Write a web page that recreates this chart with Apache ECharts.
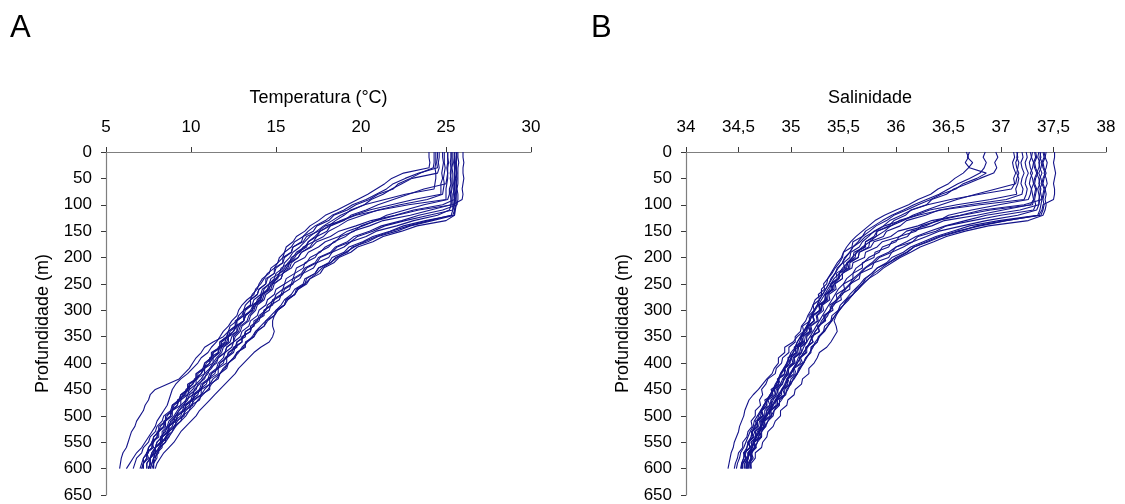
<!DOCTYPE html>
<html>
<head>
<meta charset="utf-8">
<script src="https://cdn.jsdelivr.net/npm/echarts@6/dist/echarts.min.js"></script>
<style>
  html, body { margin: 0; padding: 0; background: #ffffff; }
  #chart { width: 1125px; height: 504px; }
</style>
</head>
<body>
<div id="chart"></div>
<script>
// ---------------- DATA ----------------
const PANEL_LABELS = ['A', 'B'];
const TEMP_TITLE = 'Temperatura (°C)';
const SAL_TITLE = 'Salinidade';
const DEPTH_TITLE = 'Profundidade (m)';

// depth levels (m) shared by all profiles
const DEPTHS = [0,10,20,30,40,50,60,70,80,90,100,110,120,130,140,150,160,170,180,190,
  200,210,220,230,240,250,260,270,280,290,300,310,320,330,340,350,360,370,380,390,
  400,410,420,430,440,450,460,470,480,490,500,510,520,530,540,550,560,570,580,590,600];

// Temperature profiles (°C), one value per depth level
const T01 = [24.0,24.0,24.05,24.0,22.5,21.8,21.4,20.9,20.4,19.8,
  19.2,18.6,17.9,17.5,17.0,16.7,16.2,16.0,15.6,15.5,
  15.2,15.1,14.7,14.6,14.2,14.0,13.9,13.6,13.5,13.2,
  13.1,12.8,12.7,12.3,12.2,11.9,11.3,10.8,10.6,10.3,
  10.1,9.9,9.6,9.3,8.6,7.9,7.6,7.5,7.3,7.2,
  7.0,6.8,6.7,6.5,6.4,6.3,6.2,6.0,5.9,5.85,5.8];
const T02 = [24.5,24.5,24.45,24.5,23.4,22.6,21.9,21.5,20.9,20.3,
  19.5,19.0,18.3,17.9,17.3,16.9,16.6,16.1,15.9,15.5,
  15.4,15.1,14.9,14.5,14.3,14.1,13.8,13.7,13.3,13.0,
  12.8,12.7,12.4,12.2,11.9,11.7,11.5,11.2,11.0,10.6,
  10.4,10.1,9.8,9.4,9.1,8.9,8.8,8.7,8.6,8.4,
  8.2,8.0,7.9,7.7,7.5,7.3,7.1,6.8,6.6,6.4,6.2];
const T03 = [24.4,24.4,24.4,24.35,24.4,24.4,24.35,24.3,22.6,21.4,
  20.2,19.5,18.8,18.3,17.8,17.4,17.0,16.7,16.4,16.0,
  15.8,15.5,15.4,15.0,14.9,14.6,14.3,14.2,13.9,13.8,
  13.6,13.2,13.1,12.8,12.7,12.4,12.3,11.9,11.8,11.5,
  11.3,11.1,10.8,10.6,10.3,10.1,9.8,9.7,9.4,9.2,
  9.0,8.7,8.6,8.3,8.3,8.0,7.9,7.7,7.6,7.4,7.4];
const T04 = [24.8,24.8,24.85,24.8,24.75,24.8,24.7,24.7,24.7,23.1,
  21.8,20.5,19.6,18.8,18.2,17.6,17.3,16.9,16.8,16.3,
  16.1,15.8,15.6,15.4,15.0,14.8,14.5,14.3,14.2,13.8,
  13.7,13.4,13.3,12.9,12.8,12.5,12.5,12.1,12.0,11.6,
  11.5,11.1,11.0,10.7,10.5,10.2,10.1,9.7,9.6,9.3,
  9.1,8.9,8.6,8.5,8.2,8.2,7.9,7.8,7.6,7.6,7.5];
const T05 = [24.6,24.6,24.55,24.6,24.5,23.0,22.4,21.8,21.3,20.6,
  20.2,19.4,19.0,18.5,18.1,17.6,17.4,16.9,16.7,16.2,
  16.0,15.7,15.5,15.2,15.0,14.6,14.5,14.2,14.0,13.7,
  13.5,13.2,13.1,12.7,12.5,12.2,12.1,11.7,11.6,11.3,
  11.1,10.8,10.6,10.3,10.1,9.8,9.6,9.3,9.2,8.9,
  8.8,8.5,8.4,8.1,8.0,7.8,7.7,7.4,7.4,7.2,7.2];
const T06 = [24.9,24.9,24.9,24.95,24.9,24.85,24.9,24.85,24.8,23.9,
  22.3,21.0,20.1,19.2,18.7,18.1,17.8,17.2,17.0,16.5,
  16.3,15.9,15.8,15.4,15.3,14.9,14.8,14.4,14.3,13.9,
  13.8,13.5,13.4,13.0,12.9,12.6,12.5,12.1,12.0,11.6,
  11.4,11.2,10.9,10.8,10.4,10.3,9.9,9.8,9.5,9.3,
  9.1,8.8,8.7,8.4,8.3,8.0,7.9,7.7,7.6,7.4,7.4];
const T07 = [25.3,25.3,25.25,25.3,25.3,25.25,25.3,25.2,25.2,25.1,
  23.7,22.6,21.5,20.9,20.0,19.6,18.8,18.5,17.9,17.6,
  17.0,16.8,16.2,16.1,15.6,15.5,15.0,14.9,14.5,14.4,
  14.0,13.9,13.5,13.4,13.0,12.9,12.5,12.4,12.0,11.9,
  11.6,11.5,11.1,11.0,10.6,10.5,10.1,10.0,9.6,9.5,
  9.1,9.0,8.7,8.6,8.3,8.2,7.9,7.8,7.6,7.6,7.5];
const T08 = [26.0,26.0,26.05,26.0,26.0,26.05,26.0,25.95,26.0,25.95,
  25.4,25.4,25.3,24.0,22.8,21.8,20.9,20.2,19.6,19.1,
  18.6,18.2,17.7,17.4,17.0,16.7,16.3,16.1,15.7,15.5,
  15.1,14.9,14.5,14.3,13.9,13.7,13.3,13.1,12.7,12.5,
  12.2,11.9,11.7,11.3,11.1,10.8,10.6,10.2,10.0,9.7,
  9.5,9.2,9.0,8.7,8.5,8.3,8.1,7.9,7.8,7.7,7.6];
const T09 = [25.5,25.5,25.45,25.5,25.5,25.5,25.45,25.5,25.4,25.4,
  25.4,23.4,22.1,20.9,20.1,19.2,18.7,17.9,17.5,16.9,
  16.7,16.1,15.9,15.4,15.3,14.8,14.7,14.2,14.1,13.7,
  13.6,13.1,13.1,12.6,12.5,12.1,12.0,11.6,11.6,11.1,
  11.1,10.7,10.6,10.2,10.1,9.7,9.7,9.2,9.2,8.8,
  8.8,8.4,8.4,8.0,8.0,7.7,7.7,7.4,7.4,7.2,7.1];
const T10 = [25.1,25.1,25.1,25.05,25.1,25.1,25.05,25.0,25.0,25.0,
  22.8,21.1,19.7,18.9,17.9,17.5,16.8,16.6,16.0,15.9,
  15.4,15.4,14.9,14.9,14.4,14.4,14.0,13.9,13.5,13.5,
  13.1,13.0,12.6,12.6,12.2,12.1,11.7,11.7,11.2,11.2,
  10.8,10.7,10.3,10.3,9.8,9.8,9.4,9.3,8.9,8.9,
  8.5,8.5,8.1,8.1,7.8,7.8,7.5,7.5,7.2,7.2,7.1];
const T11 = [25.6,25.65,25.6,25.6,25.6,25.55,25.6,25.6,25.55,25.5,
  24.8,23.1,22.0,20.6,19.7,18.7,18.2,17.4,17.1,16.5,
  16.3,15.8,15.7,15.2,15.1,14.7,14.6,14.1,14.1,13.6,
  13.6,13.2,13.1,12.7,12.7,12.2,12.2,11.8,11.7,11.3,
  11.3,10.8,10.8,10.3,10.3,9.9,9.8,9.4,9.4,8.9,
  8.9,8.5,8.5,8.1,8.1,7.7,7.8,7.4,7.5,7.2,7.2];
const T12 = [25.4,25.4,25.4,25.35,25.4,25.4,25.4,25.35,25.3,25.3,
  25.3,24.1,22.9,21.3,20.5,19.5,19.1,18.4,18.1,17.5,
  17.3,16.7,16.6,16.1,16.0,15.5,15.4,15.0,14.9,14.5,
  14.4,14.0,13.9,13.5,13.5,13.0,13.0,12.6,12.5,12.1,
  12.1,11.6,11.6,11.1,11.1,10.6,10.6,10.1,10.1,9.6,
  9.6,9.1,9.1,8.7,8.7,8.3,8.3,8.0,8.0,7.8,7.7];
const T13 = [25.5,25.5,25.5,25.55,25.5,25.5,25.5,25.45,25.5,25.5,
  25.45,25.5,25.4,23.8,22.5,21.7,20.7,20.1,19.3,19.0,
  18.3,18.1,17.5,17.3,16.8,16.7,16.2,16.1,15.6,15.5,
  15.0,14.9,14.4,14.3,13.8,13.7,13.2,13.2,12.7,12.6,
  12.2,12.1,11.7,11.6,11.1,11.1,10.6,10.5,10.0,9.9,
  9.5,9.4,9.0,8.9,8.5,8.5,8.1,8.1,7.8,7.8,7.8];
const T14 = [25.6,25.6,25.6,25.6,25.65,25.6,25.6,25.6,25.6,25.55,
  25.6,25.55,25.5,25.0,23.3,22.4,21.3,20.7,19.8,19.4,
  18.7,18.4,17.8,17.6,17.0,16.8,16.3,16.1,15.6,15.5,
  15.1,14.9,14.8,14.8,14.9,14.8,14.6,14.1,13.7,13.4,
  13.1,12.8,12.6,12.3,12.0,11.7,11.4,11.1,10.8,10.5,
  10.3,10.0,9.7,9.4,9.2,9.0,8.7,8.4,8.2,8.0,7.9];
const T15 = [25.3,25.3,25.3,25.3,25.25,25.3,25.3,25.3,25.25,25.3,
  25.3,25.2,24.5,23.1,22.1,20.9,20.3,19.4,19.0,18.3,
  18.1,17.4,17.2,16.6,16.4,15.9,15.8,15.3,15.2,14.7,
  14.6,14.1,14.0,13.6,13.5,13.0,13.0,12.5,12.4,12.0,
  11.9,11.5,11.4,11.0,10.9,10.5,10.4,10.0,9.9,9.5,
  9.4,9.0,8.9,8.6,8.6,8.2,8.2,7.9,7.8,7.7,7.6];
const T16 = [25.5,25.5,25.55,25.5,25.5,25.5,25.5,25.5,25.45,25.5,
  25.5,25.4,24.0,22.6,21.4,20.7,19.8,19.4,18.6,18.3,
  17.6,17.4,16.8,16.6,16.1,16.0,15.5,15.4,14.9,14.8,
  14.3,14.3,13.8,13.7,13.2,13.2,12.7,12.7,12.2,12.1,
  11.7,11.6,11.2,11.1,10.7,10.6,10.2,10.1,9.7,9.6,
  9.2,9.1,8.7,8.7,8.3,8.3,7.9,7.9,7.6,7.6,7.5];
const T17 = [25.65,25.6,25.6,25.6,25.6,25.65,25.6,25.6,25.6,25.6,
  25.6,25.5,25.5,24.2,22.9,22.1,21.0,20.4,19.5,19.2,
  18.5,18.2,17.5,17.3,16.7,16.6,16.1,15.9,15.5,15.3,
  15.0,14.7,14.4,14.1,13.8,13.6,13.3,13.0,12.8,12.5,
  12.2,12.0,11.7,11.5,11.2,11.0,10.7,10.4,10.2,9.9,
  9.7,9.4,9.1,8.9,8.7,8.5,8.2,8.0,7.9,7.8,7.8];
const T18 = [25.1,25.1,25.15,25.1,25.1,25.05,25.0,23.7,22.8,21.9,
  21.0,20.3,19.4,19.0,18.2,18.0,17.4,17.2,16.6,16.4,
  15.9,15.8,15.3,15.2,14.7,14.6,14.2,14.1,13.7,13.6,
  13.2,13.1,12.7,12.7,12.3,12.2,11.8,11.8,11.3,11.3,
  10.9,10.8,10.4,10.4,9.9,9.9,9.5,9.4,9.0,8.9,
  8.6,8.5,8.2,8.1,7.8,7.7,7.5,7.4,7.2,7.1,7.0];
const T19 = [25.7,25.7,25.75,25.7,25.7,25.7,25.7,25.65,25.7,25.7,
  25.65,24.8,23.4,22.4,21.2,20.5,19.6,19.2,18.5,18.2,
  17.5,17.3,16.7,16.5,16.0,15.9,15.4,15.3,14.8,14.7,
  14.3,14.2,13.7,13.7,13.2,13.1,12.7,12.6,12.2,12.1,
  11.7,11.6,11.2,11.1,10.7,10.6,10.2,10.1,9.7,9.6,
  9.2,9.1,8.7,8.7,8.3,8.3,7.9,7.9,7.6,7.6,7.5];
const T20 = [24.3,24.3,24.3,24.25,23.5,22.9,22.2,21.9,21.0,20.5,
  19.7,19.2,18.4,18.1,17.4,17.2,16.6,16.5,16.0,15.9,
  15.5,15.4,15.0,14.9,14.5,14.4,14.0,13.9,13.5,13.5,
  13.1,13.1,12.7,12.6,12.2,12.1,11.7,11.7,11.3,11.2,
  10.8,10.8,10.3,10.3,9.9,9.8,9.4,9.3,8.9,8.8,
  8.4,8.3,8.0,7.9,7.6,7.5,7.2,7.1,6.8,6.7,6.6];

// Salinity profiles, one value per depth level
const S01 = [36.70,36.68,36.73,36.69,36.64,36.56,36.50,36.40,36.33,36.21,
  36.12,36.00,35.89,35.80,35.74,35.68,35.62,35.57,35.53,35.50,
  35.48,35.44,35.41,35.38,35.35,35.31,35.32,35.26,35.27,35.21,
  35.22,35.17,35.18,35.11,35.12,35.06,35.02,34.94,34.94,34.88,
  34.88,34.84,34.82,34.77,34.73,34.69,34.64,34.60,34.58,34.56,
  34.55,34.53,34.51,34.50,34.48,34.46,34.45,34.43,34.42,34.41,34.40];
const S02 = [36.85,36.83,36.86,36.84,36.80,36.70,36.59,36.50,36.41,36.29,
  36.17,36.07,35.96,35.87,35.79,35.71,35.68,35.59,35.58,35.50,
  35.49,35.46,35.42,35.39,35.35,35.34,35.29,35.29,35.23,35.21,
  35.19,35.16,35.14,35.10,35.09,35.04,35.04,34.98,34.98,34.92,
  34.91,34.86,34.85,34.78,34.76,34.72,34.73,34.70,34.71,34.66,
  34.66,34.62,34.63,34.59,34.58,34.54,34.54,34.50,34.49,34.47,34.46];
const S03 = [37.12,37.13,37.11,37.12,37.14,37.12,37.13,37.10,36.80,36.52,
  36.30,36.15,36.05,35.94,35.88,35.79,35.74,35.68,35.65,35.57,
  35.56,35.50,35.51,35.43,35.44,35.38,35.37,35.33,35.32,35.29,
  35.28,35.21,35.22,35.17,35.18,35.12,35.13,35.07,35.08,35.02,
  35.02,34.97,34.96,34.92,34.90,34.86,34.85,34.81,34.80,34.75,
  34.75,34.70,34.71,34.65,34.67,34.62,34.63,34.59,34.59,34.56,34.56];
const S04 = [37.16,37.15,37.17,37.16,37.15,37.17,37.16,37.14,37.15,36.90,
  36.58,36.32,36.19,36.03,35.95,35.82,35.79,35.71,35.71,35.62,
  35.61,35.54,35.53,35.49,35.45,35.41,35.39,35.35,35.35,35.29,
  35.29,35.24,35.25,35.18,35.19,35.14,35.15,35.09,35.10,35.03,
  35.04,34.97,34.98,34.93,34.92,34.87,34.88,34.81,34.82,34.77,
  34.76,34.72,34.71,34.68,34.66,34.64,34.63,34.60,34.59,34.58,34.58];
const S05 = [36.95,36.97,36.94,36.96,36.93,36.80,36.68,36.55,36.48,36.34,
  36.29,36.14,36.09,35.98,35.93,35.82,35.81,35.71,35.70,35.60,
  35.59,35.53,35.52,35.46,35.45,35.38,35.39,35.33,35.33,35.27,
  35.27,35.21,35.22,35.16,35.15,35.10,35.11,35.04,35.05,35.00,
  34.99,34.94,34.94,34.88,34.88,34.83,34.82,34.77,34.77,34.72,
  34.73,34.68,34.68,34.63,34.64,34.60,34.61,34.56,34.57,34.54,34.54];
const S06 = [37.20,37.21,37.19,37.20,37.22,37.20,37.19,37.21,37.20,37.05,
  36.70,36.41,36.28,36.10,36.04,35.91,35.88,35.75,35.74,35.65,
  35.64,35.56,35.56,35.49,35.49,35.42,35.43,35.36,35.37,35.30,
  35.31,35.25,35.26,35.19,35.20,35.15,35.15,35.09,35.10,35.03,
  35.03,34.98,34.97,34.94,34.91,34.88,34.86,34.83,34.81,34.77,
  34.76,34.71,34.72,34.66,34.67,34.62,34.63,34.59,34.59,34.56,34.56];
const S07 = [37.28,37.29,37.27,37.28,37.30,37.28,37.27,37.29,37.28,37.26,
  36.98,36.72,36.50,36.41,36.24,36.19,36.03,36.00,35.87,35.84,
  35.74,35.69,35.62,35.59,35.53,35.50,35.45,35.42,35.39,35.36,
  35.33,35.30,35.27,35.24,35.21,35.18,35.15,35.12,35.10,35.07,
  35.05,35.02,34.99,34.96,34.94,34.91,34.88,34.85,34.82,34.79,
  34.76,34.73,34.72,34.69,34.67,34.64,34.63,34.60,34.59,34.58,34.58];
const S08 = [37.51,37.51,37.50,37.51,37.52,37.51,37.50,37.51,37.51,37.50,
  37.40,37.39,37.36,37.05,36.80,36.58,36.41,36.29,36.17,36.11,
  36.02,35.93,35.86,35.79,35.74,35.68,35.64,35.59,35.55,35.50,
  35.46,35.42,35.39,35.35,35.32,35.27,35.25,35.20,35.18,35.14,
  35.12,35.07,35.06,35.00,34.99,34.94,34.94,34.87,34.87,34.81,
  34.81,34.75,34.75,34.70,34.69,34.65,34.65,34.61,34.62,34.60,34.59];
const S09 = [37.32,37.33,37.31,37.32,37.34,37.32,37.31,37.33,37.32,37.31,
  37.30,36.90,36.63,36.39,36.28,36.10,36.04,35.87,35.82,35.71,
  35.70,35.59,35.58,35.49,35.49,35.41,35.41,35.33,35.34,35.27,
  35.28,35.20,35.22,35.15,35.15,35.09,35.10,35.03,35.05,34.97,
  34.99,34.93,34.94,34.87,34.88,34.81,34.83,34.75,34.77,34.71,
  34.73,34.66,34.68,34.62,34.64,34.59,34.61,34.55,34.57,34.54,34.53];
const S10 = [37.24,37.25,37.23,37.24,37.26,37.24,37.23,37.25,37.24,37.22,
  36.80,36.43,36.21,36.05,35.89,35.80,35.71,35.66,35.59,35.56,
  35.51,35.49,35.44,35.42,35.38,35.36,35.33,35.30,35.27,35.25,
  35.22,35.19,35.17,35.15,35.12,35.09,35.06,35.04,35.00,34.98,
  34.96,34.93,34.90,34.88,34.85,34.83,34.80,34.77,34.74,34.72,
  34.69,34.68,34.65,34.63,34.62,34.60,34.58,34.57,34.55,34.53,34.53];
const S11 = [37.40,37.41,37.39,37.40,37.42,37.40,37.39,37.41,37.40,37.39,
  37.22,36.82,36.61,36.34,36.21,36.02,35.95,35.79,35.76,35.65,
  35.64,35.54,35.55,35.46,35.46,35.39,35.40,35.32,35.34,35.26,
  35.28,35.21,35.22,35.16,35.18,35.10,35.12,35.06,35.06,35.00,
  35.02,34.94,34.96,34.88,34.90,34.84,34.85,34.78,34.80,34.72,
  34.74,34.68,34.69,34.63,34.65,34.59,34.62,34.55,34.58,34.54,34.54];
const S12 = [37.30,37.29,37.31,37.30,37.28,37.30,37.31,37.29,37.30,37.31,
  37.28,37.02,36.77,36.46,36.34,36.15,36.11,35.96,35.93,35.80,
  35.79,35.68,35.68,35.59,35.59,35.50,35.51,35.43,35.44,35.37,
  35.38,35.31,35.32,35.25,35.27,35.19,35.21,35.15,35.15,35.09,
  35.11,35.03,35.05,34.97,34.99,34.92,34.94,34.86,34.88,34.80,
  34.82,34.74,34.76,34.70,34.72,34.65,34.67,34.62,34.64,34.60,34.60];
const S13 = [37.38,37.37,37.39,37.38,37.36,37.38,37.39,37.37,37.38,37.39,
  37.38,37.37,37.35,36.98,36.70,36.54,36.38,36.26,36.14,36.07,
  35.96,35.91,35.82,35.77,35.71,35.68,35.62,35.59,35.53,35.50,
  35.45,35.42,35.38,35.35,35.31,35.27,35.23,35.21,35.18,35.15,
  35.12,35.09,35.06,35.03,34.99,34.97,34.94,34.91,34.87,34.84,
  34.81,34.78,34.75,34.72,34.69,34.68,34.65,34.63,34.62,34.61,34.62];
const S14 = [37.43,37.42,37.44,37.43,37.41,37.43,37.44,37.42,37.43,37.42,
  37.43,37.42,37.40,37.26,36.88,36.66,36.48,36.36,36.23,36.14,
  36.04,35.96,35.88,35.82,35.74,35.69,35.64,35.59,35.53,35.50,
  35.46,35.43,35.41,35.43,35.44,35.41,35.38,35.34,35.27,35.25,
  35.22,35.17,35.17,35.11,35.10,35.04,35.03,34.97,34.96,34.90,
  34.90,34.85,34.83,34.78,34.77,34.73,34.72,34.66,34.66,34.62,34.62];
const S15 = [37.36,37.35,37.37,37.36,37.34,37.36,37.37,37.35,37.36,37.37,
  37.36,37.34,37.16,36.86,36.63,36.41,36.29,36.16,36.07,35.96,
  35.93,35.79,35.77,35.66,35.65,35.56,35.56,35.47,35.48,35.39,
  35.40,35.32,35.33,35.26,35.27,35.19,35.21,35.14,35.14,35.08,
  35.09,35.02,35.03,34.96,34.97,34.91,34.91,34.85,34.86,34.79,
  34.80,34.73,34.74,34.69,34.71,34.64,34.66,34.61,34.62,34.59,34.59];
const S16 = [37.33,37.34,37.32,37.33,37.35,37.33,37.32,37.34,37.33,37.32,
  37.33,37.31,37.00,36.73,36.48,36.38,36.21,36.16,36.00,35.96,
  35.84,35.79,35.71,35.66,35.61,35.57,35.52,35.49,35.44,35.41,
  35.37,35.35,35.31,35.27,35.23,35.21,35.18,35.16,35.12,35.09,
  35.06,35.03,35.00,34.97,34.95,34.92,34.89,34.86,34.83,34.80,
  34.77,34.74,34.72,34.70,34.67,34.65,34.63,34.61,34.59,34.58,34.58];
const S17 = [37.41,37.42,37.40,37.41,37.43,37.41,37.40,37.42,37.41,37.40,
  37.41,37.40,37.38,37.04,36.77,36.61,36.43,36.31,36.17,36.10,
  36.00,35.93,35.82,35.77,35.70,35.66,35.61,35.56,35.52,35.47,
  35.45,35.39,35.38,35.32,35.31,35.26,35.25,35.19,35.19,35.14,
  35.12,35.08,35.06,35.02,35.00,34.96,34.95,34.89,34.89,34.84,
  34.83,34.78,34.76,34.72,34.72,34.68,34.66,34.62,34.63,34.61,34.61];
const S18 = [37.15,37.16,37.14,37.15,37.17,37.15,37.14,36.95,36.76,36.58,
  36.43,36.29,36.16,36.07,35.95,35.89,35.81,35.75,35.68,35.63,
  35.58,35.54,35.49,35.46,35.41,35.38,35.35,35.32,35.29,35.26,
  35.23,35.20,35.18,35.16,35.13,35.10,35.08,35.06,35.02,35.00,
  34.97,34.94,34.91,34.89,34.86,34.84,34.81,34.78,34.75,34.72,
  34.71,34.68,34.66,34.63,34.62,34.59,34.58,34.55,34.55,34.53,34.52];
const S19 = [37.37,37.38,37.36,37.37,37.39,37.37,37.36,37.38,37.37,37.36,
  37.36,37.18,36.86,36.66,36.47,36.32,36.19,36.10,36.00,35.93,
  35.82,35.77,35.70,35.65,35.59,35.56,35.51,35.47,35.43,35.39,
  35.37,35.33,35.29,35.27,35.23,35.20,35.18,35.15,35.12,35.09,
  35.06,35.03,35.00,34.97,34.95,34.92,34.89,34.86,34.83,34.80,
  34.77,34.74,34.72,34.70,34.67,34.65,34.63,34.61,34.59,34.58,34.57];
const S20 = [36.67,36.69,36.66,36.70,36.86,36.77,36.64,36.57,36.43,36.33,
  36.21,36.10,35.98,35.91,35.81,35.75,35.68,35.64,35.59,35.56,
  35.52,35.49,35.45,35.42,35.39,35.36,35.33,35.30,35.27,35.25,
  35.22,35.20,35.18,35.15,35.12,35.09,35.06,35.04,35.02,34.98,
  34.96,34.94,34.90,34.88,34.86,34.83,34.80,34.77,34.74,34.71,
  34.68,34.65,34.64,34.61,34.59,34.57,34.55,34.52,34.51,34.49,34.48];

const TEMP_PROFILES = [T01,T02,T03,T04,T05,T06,T07,T08,T09,T10,T11,T12,T13,T14,T15,T16,T17,T18,T19,T20];
const SAL_PROFILES = [S01,S02,S03,S04,S05,S06,S07,S08,S09,S10,S11,S12,S13,S14,S15,S16,S17,S18,S19,S20];

// ---------------- CHART ----------------
const FONT = '"Liberation Sans", Arial, Helvetica, sans-serif';
const LINE_COLOR = '#14148a';
const AXIS_COLOR = '#7f7f7f';
const TICK_COLOR = '#3a3a3a';

function profileSeries(profiles, idx) {
  return profiles.map(function (vals, k) {
    const n = Math.min(vals.length, DEPTHS.length);
    const data = [];
    for (let i = 0; i < n; i++) data.push([vals[i], DEPTHS[i]]);
    return {
      type: 'line',
      name: (idx === 0 ? 'T' : 'S') + (k + 1),
      xAxisIndex: idx,
      yAxisIndex: idx,
      data: data,
      showSymbol: false,
      symbol: 'none',
      smooth: false,
      silent: true,
      animation: false,
      lineStyle: { color: LINE_COLOR, width: 1.1 },
      z: 3
    };
  });
}

function xAxisCfg(idx, name, min, max, interval, fmt, namePad) {
  return {
    type: 'value',
    gridIndex: idx,
    position: 'top',
    min: min, max: max, interval: interval,
    name: name,
    nameLocation: 'middle',
    nameGap: 45,
    nameTextStyle: { fontFamily: FONT, fontSize: 18, color: '#000', padding: namePad },
    axisLine: { show: true, onZero: false, lineStyle: { color: AXIS_COLOR, width: 1.2 } },
    axisTick: { show: true, length: 5, lineStyle: { color: TICK_COLOR, width: 1 } },
    axisLabel: { show: true, margin: 16, fontFamily: FONT, fontSize: 17, color: '#000',
      showMinLabel: true, showMaxLabel: true, formatter: fmt },
    splitLine: { show: false }
  };
}

function yAxisCfg(idx) {
  return {
    type: 'value',
    gridIndex: idx,
    inverse: true,
    min: 0, max: 650, interval: 50,
    name: DEPTH_TITLE,
    nameLocation: 'middle',
    nameRotate: 90,
    nameGap: 54,
    nameTextStyle: { fontFamily: FONT, fontSize: 18, color: '#000' },
    axisLine: { show: true, onZero: false, lineStyle: { color: AXIS_COLOR, width: 1.2 } },
    axisTick: { show: true, length: 5, lineStyle: { color: TICK_COLOR, width: 1 } },
    axisLabel: { show: true, margin: 14, fontFamily: FONT, fontSize: 17, color: '#000',
      showMinLabel: true, showMaxLabel: true },
    splitLine: { show: false }
  };
}

const chart = echarts.init(document.getElementById('chart'), null, { renderer: 'canvas' });
const option = {
  backgroundColor: '#ffffff',
  animation: false,
  graphic: [
    { type: 'text', left: 10, top: 13, style: { text: PANEL_LABELS[0], font: '31px ' + FONT, fill: '#000' } },
    { type: 'text', left: 591, top: 13, style: { text: PANEL_LABELS[1], font: '31px ' + FONT, fill: '#000' } }
  ],
  grid: [
    { left: 106, right: 594, top: 152, bottom: 9, containLabel: false },
    { left: 686, right: 19, top: 152, bottom: 9, containLabel: false }
  ],
  xAxis: [
    xAxisCfg(0, TEMP_TITLE, 5, 30, 5, function (v) { return String(v); }, 0),
    xAxisCfg(1, SAL_TITLE, 34, 38, 0.5, function (v) { return String(v).replace('.', ','); }, [0, 52, 0, 0])
  ],
  yAxis: [yAxisCfg(0), yAxisCfg(1)],
  series: profileSeries(TEMP_PROFILES, 0).concat(profileSeries(SAL_PROFILES, 1))
};
chart.setOption(option);
</script>
</body>
</html>
